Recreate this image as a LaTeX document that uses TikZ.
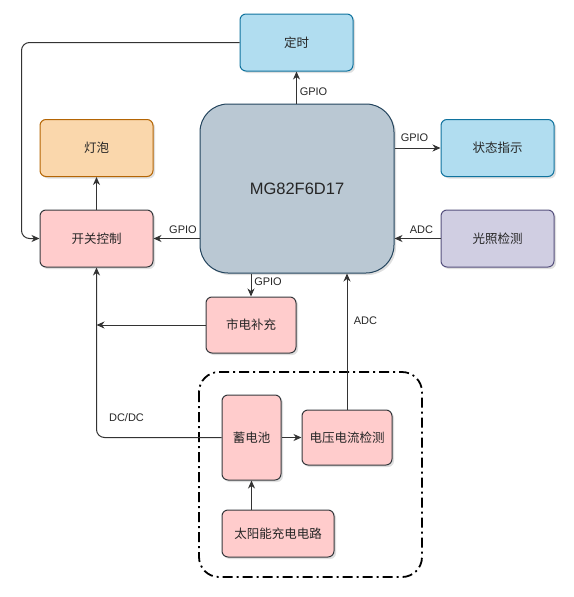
\documentclass[tikz,border=0pt]{standalone}
\usepackage{fontspec}
\setmainfont{Liberation Sans}
\newfontfamily\cjk{Noto Sans CJK SC}
\usetikzlibrary{arrows.meta,shadows}

\definecolor{blueF}{HTML}{B1DDF0}
\definecolor{blueD}{HTML}{10739E}
\definecolor{mcuF}{HTML}{BAC8D3}
\definecolor{mcuD}{HTML}{23445D}
\definecolor{orangeF}{HTML}{FAD7AC}
\definecolor{orangeD}{HTML}{B46504}
\definecolor{pinkF}{HTML}{FFCCCC}
\definecolor{pinkD}{HTML}{36393D}
\definecolor{purpleF}{HTML}{D0CEE2}
\definecolor{purpleD}{HTML}{56517E}
\definecolor{wire}{HTML}{333333}

\tikzset{
	block/.style={draw, line width=1pt, rounded corners=6pt, align=center, text=black!85,
		font=\cjk\fontsize{12.5}{15}\selectfont,
		drop shadow={opacity=0.25, shadow xshift=2pt, shadow yshift=-2pt},
		minimum width=113pt, minimum height=57pt, inner sep=0pt},
	blue/.style={block, fill=blueF, draw=blueD},
	pink/.style={block, fill=pinkF, draw=pinkD},
	wirelabel/.style={font=\fontsize{11}{13}\selectfont, text=black!85, inner sep=0pt},
	line/.style={draw=wire, line width=1pt, -{Stealth[length=8pt,width=7pt,inset=2.5pt]}}
}

\begin{document}
\begin{tikzpicture}[x=1pt, y=-1pt]
	\useasboundingbox (0, 0) rectangle (573, 597);

	\node[blue] (tm) at (296.5, 42.5) {定时};
	\node[block, fill=mcuF, draw=mcuD, rounded corners=28pt, minimum width=194pt, minimum height=169pt,
		font=\fontsize{16.5}{20}\selectfont] (mcu) at (297, 188.5) {MG82F6D17};
	\node[block, fill=orangeF, draw=orangeD] (bulb) at (96.5, 148) {灯泡};
	\node[pink] (sw) at (96.5, 238.5) {开关控制};
	\node[blue] (st) at (497.5, 148) {状态指示};
	\node[block, fill=purpleF, draw=purpleD] (lt) at (497.5, 238.5) {光照检测};
	\node[pink, minimum width=90pt, minimum height=56pt] (ms) at (251, 325) {市电补充};

	\draw[line width=1.8pt, rounded corners=20pt, dash pattern=on 10pt off 4pt on 2pt off 4pt] (199, 372) rectangle (422, 577);

	\node[pink, minimum width=59pt, minimum height=85pt] (bat) at (251.5, 437.5) {蓄电池};
	\node[pink, minimum width=90pt, minimum height=55pt] (vc) at (347, 437.5) {电压电流检测};
	\node[pink, minimum width=112pt, minimum height=47pt] (solar) at (278, 533.5) {太阳能充电电路};

	\draw[line, rounded corners=8pt] (tm.west) -- ++(-218, 0) |- (sw.west);
	\draw[line] (tm.south |- mcu.north) -- (tm.south);
	\draw[line] (mcu.east |- st.west) -- (st.west);
	\draw[line] (lt.west) -- (lt.west -| mcu.east);
	\draw[line] (mcu.west |- sw.east) -- (sw.east);
	\draw[line] (sw.north) -- (bulb.south);
	\draw[line] (ms.north |- mcu.south) -- (ms.north);
	\draw[line] (ms.west) -- (ms.west -| sw.south);
	\draw[line, rounded corners=8pt] (bat.west) -| (sw.south);
	\draw[line] (bat.east) -- (vc.west);
	\draw[line] (vc.north) -- (vc.north |- mcu.south);
	\draw[line] (solar.north -| bat.south) -- (bat.south);

	\node[wirelabel] (l1) at (313.5, 92) {GPIO};
	\node[wirelabel] (l2) at (414.5, 138) {GPIO};
	\node[wirelabel] (l3) at (421.5, 230) {ADC};
	\node[wirelabel] (l4) at (183, 230) {GPIO};
	\node[wirelabel] (l5) at (268, 282) {GPIO};
	\node[wirelabel] (l6) at (365.5, 321) {ADC};
	\node[wirelabel] (l7) at (126.5, 418) {DC/DC};
\end{tikzpicture}
\end{document}
